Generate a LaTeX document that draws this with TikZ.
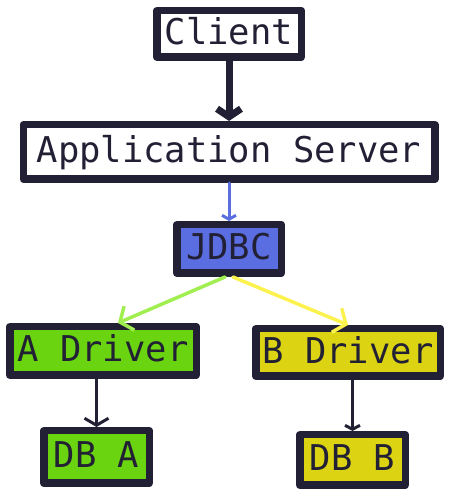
\documentclass[tikz,border=0pt]{standalone}
\usepackage{fontspec}
\setmonofont{DejaVu Sans Mono}
\usetikzlibrary{positioning, arrows.meta}

\definecolor{ink}{HTML}{222034}
\definecolor{jdbcblue}{HTML}{5B6EE1}
\definecolor{drvgreen}{HTML}{6AD410}
\definecolor{drvyellow}{HTML}{DCD412}
\definecolor{lightgreen}{HTML}{A0EE50}
\definecolor{lightyellow}{HTML}{FBF24E}

\tikzset{
	diagram/.style = {
		x = 1pt,
		y = 1pt,
		arrow/.style = {
			draw = ink,
			line cap = round,
		}
	},
	box/.style = {
		rectangle,
		draw = ink,
		fill = white,
		text = ink,
		line width = 7.5pt,
		line join = round,
		inner sep = 0pt,
		font = \ttfamily\fontsize{35.5}{40}\selectfont,
		text height = 28.5pt,
		text depth = 7pt
	},
	jdbc/.style = {
		fill = jdbcblue
	},
	drva/.style = {
		fill = drvgreen
	},
	drvb/.style = {
		fill = drvyellow
	},
	jdbc-arrow/.style = {
		draw = jdbcblue,
		line width = 3pt,
		-{Straight Barb[length=4pt, width=14pt]}
	},
	drva-arrow/.style = {
		draw = lightgreen,
		line width = 3.5pt,
		-{Straight Barb[length=10pt, width=26pt]}
	},
	drvb-arrow/.style = {
		draw = lightyellow,
		line width = 3.5pt,
		-{Straight Barb[length=10pt, width=26pt]}
	}
}

\begin{document}
\begin{tikzpicture}[diagram]
	\useasboundingbox (0,0) rectangle (450,500);

	\node[box, minimum width = 144.5pt, minimum height = 46.5pt] (Client) at (229,466) {Client};
	\node[box, minimum width = 411.5pt, minimum height = 54.5pt, below = 60pt of Client] (App) {Application Server};
	\node[box, jdbc, minimum width = 104.5pt, minimum height = 48.5pt, below = 38pt of App] (JDBC) {JDBC};

	\node[box, drva, minimum width = 186.5pt, minimum height = 48.5pt, below = 46pt of JDBC, xshift = -126pt] (ADriver) {A Driver};
	\node[box, drvb, minimum width = 184.5pt, minimum height = 47.5pt, below = 48pt of JDBC, xshift = 119pt] (BDriver) {B Driver};

	\node[box, drva, minimum width = 105.5pt, minimum height = 52.5pt, below = 48pt of ADriver, xshift = -6.5pt] (DBA) {DB A};
	\node[box, drvb, minimum width = 105.5pt, minimum height = 50.5pt, below = 51pt of BDriver, xshift = 4.5pt] (DBB) {DB B};

	\begin{scope}[every path/.style = arrow]
		\path[line width = 7pt, -{Straight Barb[length=8pt, width=24pt]}] (Client) to (App);
		\path[jdbc-arrow] (App) to (JDBC);

		\path[drva-arrow] ([xshift=-4pt]JDBC.south) to ([xshift=15pt]ADriver.north);
		\path[drvb-arrow] ([xshift=4pt]JDBC.south) to (BDriver.north);

		\path[line width = 3pt, -{Straight Barb[length=7pt, width=24pt]}] (DBA.north |- ADriver.south) to (DBA.north);
		\path[line width = 3pt, -{Straight Barb[length=4pt, width=15pt]}] (DBB.north |- BDriver.south) to (DBB.north);
	\end{scope}
\end{tikzpicture}
\end{document}
